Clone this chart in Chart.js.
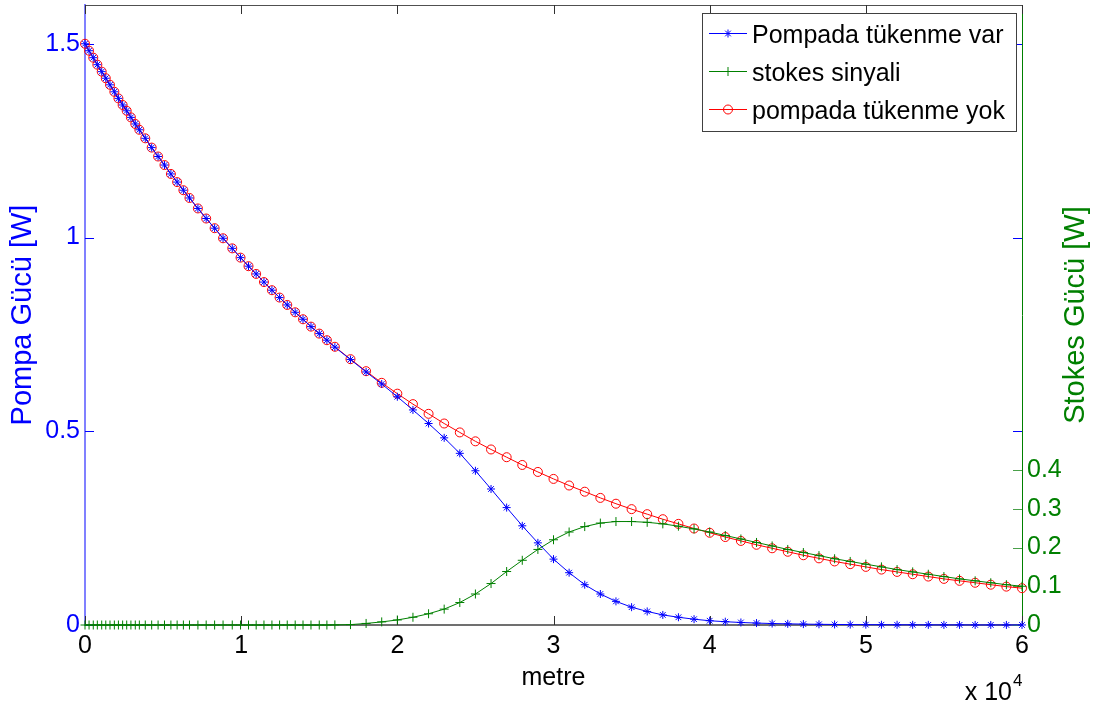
<!DOCTYPE html>
<html>
<head>
<meta charset="utf-8">
<script src="https://cdn.jsdelivr.net/npm/chart.js@4.4.1/dist/chart.umd.min.js"></script>
<style>
html,body{margin:0;padding:0;background:#fff;}
#wrap{width:1106px;height:706px;position:relative;}
</style>
</head>
<body>
<div id="wrap"><canvas id="c" width="1106" height="706"></canvas></div>
<script>
// ---- data (distance in metres, powers in W) ----
const distance = [0,260,530,790,1070,1330,1600,1880,2140,2410,2670,2940,3220,3480,3860,4270,4680,5090,5500,5900,6300,6690,7230,7760,8300,8840,9430,9960,10470,10960,11460,11970,12460,12950,13460,13960,14470,15000,15490,16000,
  17000,18000,19000,20000,21000,22000,23000,24000,25000,26000,27000,28000,29000,30000,31000,32000,33000,34000,35000,36000,37000,38000,39000,40000,
  41000,42000,43000,44000,45000,46000,47000,48000,49000,50000,51000,52000,53000,54000,55000,56000,57000,58000,59000,60000];

const pumpDepleted = [1.5,1.482,1.464,1.446,1.428,1.411,1.394,1.376,1.359,1.342,1.327,1.310,1.293,1.278,1.256,1.232,1.209,1.187,1.164,1.143,1.122,1.102,1.075,1.049,1.024,0.998,0.972,0.948,0.926,0.906,0.885,0.864,0.845,0.826,0.807,0.789,0.770,0.752,0.735,0.717,
  0.685,0.653,0.622,0.589,0.555,0.520,0.483,0.443,0.398,0.351,0.303,0.256,0.212,0.170,0.135,0.104,0.080,0.061,0.046,0.035,0.026,0.020,0.015,0.011,
  0.0085,0.0065,0.005,0.0038,0.003,0.0023,0.0018,0.0014,0.0011,0.0009,0.0007,0.0006,0.0005,0.0004,0.0003,0.0003,0.0002,0.0002,0.0002,0.0001];

const stokesSignal = [0,0,0,0,0,0,0,0,0,0,0,0,0,0,0,0,0,0,0,0,0,0,0,0,0,0,0,0,0,0,0,0,0,0,0,0,0,0,0,0.0003,
  0.001,0.004,0.008,0.013,0.020,0.029,0.041,0.058,0.080,0.107,0.138,0.167,0.195,0.220,0.240,0.254,0.263,0.267,0.267,0.265,0.261,0.255,0.248,0.240,
  0.231,0.222,0.213,0.204,0.195,0.187,0.179,0.171,0.164,0.157,0.150,0.143,0.137,0.131,0.125,0.119,0.114,0.109,0.104,0.100];

const pumpUndepleted = [1.5,1.482,1.464,1.446,1.428,1.411,1.394,1.376,1.359,1.342,1.327,1.310,1.293,1.278,1.256,1.232,1.209,1.187,1.164,1.143,1.122,1.102,1.075,1.049,1.024,0.998,0.972,0.948,0.926,0.906,0.885,0.864,0.845,0.826,0.807,0.789,0.770,0.752,0.735,0.718,
  0.686,0.655,0.625,0.597,0.570,0.545,0.520,0.497,0.474,0.453,0.433,0.413,0.395,0.377,0.360,0.344,0.328,0.313,0.299,0.286,0.273,0.261,0.249,0.238,
  0.227,0.217,0.207,0.198,0.189,0.180,0.172,0.164,0.157,0.150,0.143,0.137,0.131,0.125,0.119,0.114,0.109,0.104,0.099,0.095];

const seriesLabels = ['Pompada tükenme var','stokes sinyali','pompada tükenme yok'];
const xTickValues = [0,10000,20000,30000,40000,50000,60000];   // labelled as ×10^4
const leftTickValues = [0,0.5,1,1.5];
const rightTickValues = [0,0.1,0.2,0.3,0.4];
const xTitle = 'metre';
const leftTitle = 'Pompa Gücü [W]';
const rightTitle = 'Stokes Gücü [W]';

// ---- styling ----
const FONT = "'Liberation Sans',Arial,sans-serif";
const BLUE = '#0000ff', GREEN = '#008000', RED = '#ff0000';

const toXY = (ys) => distance.map((d, i) => ({x: d, y: ys[i]}));

const decor = {
  id: 'decor',
  beforeDatasetsDraw(chart) {
    const {ctx, chartArea: a, scales} = chart;
    const L = 9;
    ctx.save();
    ctx.lineWidth = 1;
    // top border
    ctx.strokeStyle = '#505050';
    ctx.beginPath(); ctx.moveTo(a.left, a.top + 0.5); ctx.lineTo(a.right + 1, a.top + 0.5); ctx.stroke();
    // x ticks (inward, bottom and top)
    ctx.strokeStyle = '#303030';
    scales.x.ticks.forEach(t => {
      const px = Math.round(scales.x.getPixelForValue(t.value)) + 0.5;
      ctx.beginPath();
      ctx.moveTo(px, a.bottom); ctx.lineTo(px, a.bottom - L);
      ctx.moveTo(px, a.top); ctx.lineTo(px, a.top + L);
      ctx.stroke();
    });
    // left axis ticks (blue) on both sides
    ctx.strokeStyle = BLUE;
    scales.y.ticks.forEach(t => {
      const py = Math.round(scales.y.getPixelForValue(t.value)) + 0.5;
      ctx.beginPath();
      ctx.moveTo(a.left, py); ctx.lineTo(a.left + L, py);
      ctx.moveTo(a.right, py); ctx.lineTo(a.right - L, py);
      ctx.stroke();
    });
    // right axis ticks (green)
    ctx.strokeStyle = '#4aa04a';
    scales.y2.ticks.forEach(t => {
      const py = Math.round(scales.y2.getPixelForValue(t.value)) + 0.5;
      ctx.beginPath(); ctx.moveTo(a.right, py); ctx.lineTo(a.right - L, py); ctx.stroke();
    });
    ctx.restore();
  },
  afterDraw(chart) {
    const {ctx, chartArea: a} = chart;
    ctx.save();
    // right axis title (reads bottom to top)
    ctx.translate(1076, (a.top + a.bottom) / 2);
    ctx.rotate(-Math.PI / 2);
    ctx.font = '29px ' + FONT;
    ctx.fillStyle = GREEN;
    ctx.textAlign = 'center';
    ctx.textBaseline = 'middle';
    ctx.fillText(rightTitle, 0, 0);
    ctx.restore();

    // x 10^4 multiplier
    ctx.save();
    ctx.fillStyle = '#000';
    ctx.textBaseline = 'alphabetic';
    ctx.textAlign = 'right';
    ctx.font = '25px ' + FONT;
    ctx.fillText('x 10', 1012, 700);
    ctx.textAlign = 'left';
    ctx.font = '17px ' + FONT;
    ctx.fillText('4', 1013, 686);
    ctx.restore();

    // legend box
    const bx = 702, by = 13, bw = 314, bh = 118;
    ctx.save();
    ctx.fillStyle = '#fff';
    ctx.fillRect(bx, by, bw, bh);
    ctx.strokeStyle = '#404040';
    ctx.lineWidth = 1;
    ctx.strokeRect(bx + 0.5, by + 0.5, bw, bh);
    const rows = [33.5, 71.5, 109.5];
    chart.data.datasets.forEach((ds, i) => {
      const y = rows[i];
      ctx.strokeStyle = ds.borderColor;
      ctx.lineWidth = 1;
      ctx.beginPath(); ctx.moveTo(709, y); ctx.lineTo(747, y); ctx.stroke();
      ctx.fillStyle = 'rgba(0,0,0,0)';
      Chart.helpers.drawPoint(ctx, {pointStyle: ds.pointStyle, radius: ds.pointRadius, borderWidth: 1}, 728, y);
      ctx.fillStyle = '#000';
      ctx.font = '25px ' + FONT;
      ctx.textAlign = 'left';
      ctx.textBaseline = 'alphabetic';
      ctx.fillText(ds.label, 752, y + 9);
    });
    ctx.restore();
  }
};

const tickFont = {family: FONT, size: 25};
const noPad = s => { s.paddingTop = 0; s.paddingBottom = 0; s.paddingLeft = 0; s.paddingRight = 0; };

new Chart(document.getElementById('c'), {
  type: 'scatter',
  data: {
    datasets: [
      {label: seriesLabels[0], data: toXY(pumpDepleted), yAxisID: 'y', showLine: true,
       borderColor: BLUE, backgroundColor: BLUE, borderWidth: 1, pointStyle: 'star', pointRadius: 4,
       pointBorderWidth: 1, pointBorderColor: BLUE, pointBackgroundColor: BLUE, clip: false},
      {label: seriesLabels[1], data: toXY(stokesSignal), yAxisID: 'y2', showLine: true,
       borderColor: GREEN, backgroundColor: GREEN, borderWidth: 1, pointStyle: 'cross', pointRadius: 4.5,
       pointBorderWidth: 1, pointBorderColor: GREEN, pointBackgroundColor: GREEN, clip: false},
      {label: seriesLabels[2], data: toXY(pumpUndepleted), yAxisID: 'y', showLine: true,
       borderColor: RED, backgroundColor: 'rgba(0,0,0,0)', borderWidth: 1, pointStyle: 'circle', pointRadius: 4.5,
       pointBorderWidth: 1, pointBorderColor: RED, pointBackgroundColor: 'rgba(0,0,0,0)', clip: false}
    ]
  },
  options: {
    responsive: false,
    animation: false,
    events: [],
    layout: {autoPadding: false, padding: {top: 5, left: 0, right: 0, bottom: 0}},
    plugins: {legend: {display: false}, tooltip: {enabled: false}, title: {display: false}},
    elements: {line: {tension: 0}},
    scales: {
      x: {
        type: 'linear', position: 'bottom', min: 0, max: 60000,
        afterBuildTicks: s => { s.ticks = xTickValues.map(v => ({value: v})); },
        afterFit: s => { s.height = 81; noPad(s); },
        grid: {display: false, drawTicks: false},
        border: {display: true, color: '#707070', width: 2},
        ticks: {color: '#000', font: tickFont, padding: 6, maxRotation: 0, autoSkip: false,
                callback: v => String(v / 10000)},
        title: {display: true, text: xTitle, color: '#000', font: {family: FONT, size: 25}, padding: {top: 0, bottom: 13}}
      },
      y: {
        type: 'linear', position: 'left', min: 0, max: 1.6,
        afterBuildTicks: s => { s.ticks = leftTickValues.map(v => ({value: v})); },
        afterFit: s => { s.width = 85; noPad(s); },
        grid: {display: false, drawTicks: false},
        border: {display: true, color: '#8080ff', width: 2},
        ticks: {color: BLUE, font: tickFont, padding: 5, autoSkip: false, callback: v => String(v)},
        title: {display: true, text: leftTitle, color: BLUE, font: {family: FONT, size: 29}, padding: {top: 6, bottom: 0}}
      },
      y2: {
        type: 'linear', position: 'right', min: 0, max: 1.6,
        afterBuildTicks: s => { s.ticks = rightTickValues.map(v => ({value: v})); },
        afterFit: s => { s.width = 84; noPad(s); },
        grid: {display: false, drawTicks: false},
        border: {display: true, color: GREEN, width: 1},
        ticks: {color: GREEN, font: tickFont, padding: 5, autoSkip: false, callback: v => String(v)}
      }
    }
  },
  plugins: [decor]
});
</script>
</body>
</html>
